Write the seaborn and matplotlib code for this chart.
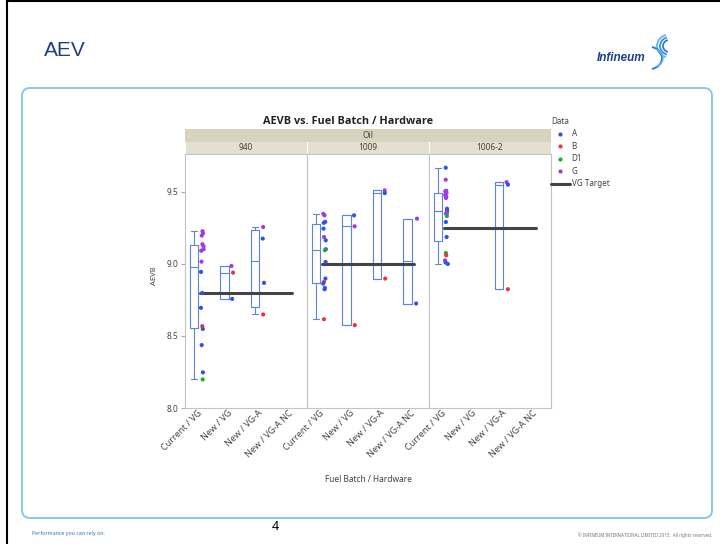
import numpy as np
import pandas as pd
import seaborn as sns
import matplotlib.pyplot as plt
from matplotlib.lines import Line2D
from matplotlib.patches import FancyBboxPatch, Rectangle, Arc
from matplotlib.transforms import ScaledTranslation

oils = ['940', '1009', '1006-2']
hardware = ['Current / VG', 'New / VG', 'New / VG-A', 'New / VG-A NC']
groups = ['A', 'B', 'D1', 'G']
group_colors = ['#2f55e0', '#e8383d', '#1fae2f', '#a23be6']
vg_target = [8.8, 9.0, 9.25]

# AEVB values, with the data group of each point
aevb_940_cur = [9.225, 9.21, 9.195, 9.135, 9.12, 9.10, 9.09, 9.014,
                8.943, 8.797, 8.694, 8.567, 8.548, 8.436, 8.247, 8.198]
data_940_cur = ['G'] * 8 + ['A', 'A', 'A', 'B', 'A', 'A', 'A', 'D1']
aevb_940_new = [8.984, 8.938, 8.756]
data_940_new = ['G', 'B', 'A']
aevb_940_newa = [9.254, 9.174, 8.867, 8.648]
data_940_newa = ['G', 'A', 'A', 'B']

aevb_1009_cur = [9.345, 9.335, 9.29, 9.283, 9.243, 9.185, 9.162, 9.10,
                 9.093, 9.012, 8.897, 8.874, 8.862, 8.832, 8.823, 8.615]
data_1009_cur = ['G', 'G', 'A', 'A', 'A', 'G', 'A', 'A',
                 'D1', 'A', 'A', 'B', 'A', 'A', 'A', 'B']
aevb_1009_new = [9.335, 9.259, 8.574]
data_1009_new = ['A', 'G', 'B']
aevb_1009_newa = [9.508, 9.489, 8.897]
data_1009_newa = ['G', 'A', 'B']
aevb_1009_nc = [9.312, 8.724]
data_1009_nc = ['G', 'A']

aevb_1006_cur = [9.665, 9.582, 9.505, 9.503, 9.50, 9.49, 9.475, 9.465, 9.455,
                 9.381, 9.367, 9.358, 9.352, 9.346, 9.33, 9.289, 9.185,
                 9.074, 9.058, 9.023, 9.008, 8.998]
data_1006_cur = ['A', 'G', 'A', 'G', 'G', 'G', 'G', 'G', 'G',
                 'A', 'A', 'A', 'G', 'G', 'D1', 'A', 'A',
                 'D1', 'B', 'G', 'A', 'A']
aevb_1006_newa = [9.565, 9.548, 8.823]
data_1006_newa = ['G', 'A', 'B']

table = {
    ('940', 'Current / VG'): (aevb_940_cur, data_940_cur),
    ('940', 'New / VG'): (aevb_940_new, data_940_new),
    ('940', 'New / VG-A'): (aevb_940_newa, data_940_newa),
    ('1009', 'Current / VG'): (aevb_1009_cur, data_1009_cur),
    ('1009', 'New / VG'): (aevb_1009_new, data_1009_new),
    ('1009', 'New / VG-A'): (aevb_1009_newa, data_1009_newa),
    ('1009', 'New / VG-A NC'): (aevb_1009_nc, data_1009_nc),
    ('1006-2', 'Current / VG'): (aevb_1006_cur, data_1006_cur),
    ('1006-2', 'New / VG-A'): (aevb_1006_newa, data_1006_newa),
}

rows = []
for (oil, hw), (vals, grp) in table.items():
    for v, g in zip(vals, grp):
        rows.append({'Oil': oil, 'Hardware': hw, 'AEVB': v, 'Data': g})
df = pd.DataFrame(rows)

sns.set_theme(style='white')
plt.rcParams['font.family'] = ['Noto Sans', 'DejaVu Sans']
text_col = '#444444'
box_col = '#5b82e6'
np.random.seed(3)


def fx(px):
    return px / 720


def fy(py):
    return 1 - py / 544


def box_stats(vals):
    v = np.sort(np.asarray(vals))
    q1, med, q3 = np.percentile(v, [25, 50, 75], method='weibull')
    iqr = q3 - q1
    lo = v[v >= q1 - 1.5 * iqr].min()
    hi = v[v <= q3 + 1.5 * iqr].max()
    return dict(med=med, q1=q1, q3=q3, whislo=lo, whishi=hi, fliers=[])


fig = plt.figure(figsize=(7.2, 5.44), dpi=100)

# slide decoration in pixel coordinates
deco = fig.add_axes([0, 0, 1, 1])
deco.set_xlim(0, 720)
deco.set_ylim(544, 0)
deco.axis('off')
deco.set_zorder(-1)
deco.plot([7, 7], [0, 544], color='black', lw=1.5)
deco.plot([7, 720], [0.7, 0.7], color='black', lw=1.5)
deco.add_patch(FancyBboxPatch((22, 88), 690, 430, boxstyle='round,pad=0,rounding_size=8',
                              facecolor='white', edgecolor='#86cbe3', lw=1.4))
deco.text(44, 51, 'AEV', fontsize=15, color='#1f3c88', va='center', ha='left',
          family=['Liberation Sans', 'DejaVu Sans'])
deco.text(597, 58, 'Infineum', fontsize=8.5, color='#1c3f94', va='center', ha='left',
          fontstyle='italic', fontweight='bold', family=['Liberation Sans', 'DejaVu Sans'])
for w, c in [(14, '#2f7ad6'), (20, '#3b8fe0'), (26, '#67b3ea')]:
    deco.add_patch(Arc((670, 46), w, w * 0.9, theta1=110, theta2=250, color=c, lw=1.3))
deco.add_patch(Arc((650, 58), 24, 22, theta1=-80, theta2=80, color='#2f7ad6', lw=1.4))
deco.add_patch(Arc((653, 58), 20, 18, theta1=-70, theta2=70, color='#67b3ea', lw=1.1))
deco.text(32, 533, 'Performance you can rely on.', fontsize=3.8, color='#3a6fc4', va='center')
deco.text(275, 527, '4', fontsize=9, color='black', va='center', ha='center')
deco.text(712, 535, '\u00a9 INFINEUM INTERNATIONAL LIMITED 2015.  All rights reserved.',
          fontsize=3.2, color='#777777', va='center', ha='right')

# chart title and strips
deco.text(348, 122, 'AEVB vs. Fuel Batch / Hardware', fontsize=7.8, fontweight='bold',
          color='#222222', ha='center', va='center', family=['Open Sans', 'DejaVu Sans'])
deco.add_patch(Rectangle((185, 128.5), 366, 13, facecolor='#d7d3be', edgecolor='none'))
deco.text(368, 135, 'Oil', fontsize=6, color=text_col, ha='center', va='center')
for k, oil in enumerate(oils):
    deco.add_patch(Rectangle((185 + 122 * k + 0.5, 141.5), 121, 12.5,
                             facecolor='#e3e0d0', edgecolor='none'))
    deco.text(246 + 122 * k, 148, oil, fontsize=6, color=text_col, ha='center', va='center')

label_shift = ScaledTranslation(6 / 100, 0, fig.dpi_scale_trans)

for k, oil in enumerate(oils):
    ax = fig.add_axes([fx(185 + 122 * k), fy(408), 122 / 720, (408 - 154) / 544])
    sub = df[df['Oil'] == oil]
    sns.stripplot(data=sub, x='Hardware', y='AEVB', hue='Data', order=hardware,
                  hue_order=groups, palette=group_colors, jitter=0.05, size=3,
                  linewidth=0, legend=False, ax=ax, zorder=3)
    for coll in ax.collections:
        off = coll.get_offsets()
        if len(off):
            off[:, 0] += 0.07
            coll.set_offsets(off)
    for i, hw in enumerate(hardware):
        vals = sub.loc[sub['Hardware'] == hw, 'AEVB']
        if len(vals) == 0:
            continue
        ax.bxp([box_stats(vals)], positions=[i - 0.2], widths=0.28, capwidths=0.2,
               showfliers=False, manage_ticks=False,
               boxprops=dict(color=box_col, lw=0.8),
               whiskerprops=dict(color=box_col, lw=0.8),
               capprops=dict(color=box_col, lw=0.8),
               medianprops=dict(color=box_col, lw=0.8))
    ax.plot([0, len(hardware) - 1], [vg_target[k], vg_target[k]],
            color='#444444', lw=2.2, zorder=2)
    ax.set_xlim(-0.5, len(hardware) - 0.5)
    ax.set_ylim(8.0, 9.76)
    ax.set_yticks([8.0, 8.5, 9.0, 9.5])
    ax.set_xticks(range(len(hardware)))
    ax.set_xticklabels(hardware, rotation=45, ha='right', va='center',
                       rotation_mode='anchor', fontsize=6.5, color=text_col)
    for lab in ax.get_xticklabels():
        lab.set_transform(lab.get_transform() + label_shift)
    ax.set_xlabel('')
    ax.set_ylabel('')
    ax.tick_params(axis='x', length=0, pad=2.5)
    if k == 0:
        ax.set_yticklabels(['8.0', '8.5', '9.0', '9.5'], fontsize=6, color=text_col)
        ax.tick_params(axis='y', length=3, width=0.6, color='#999999', pad=2, left=True)
    else:
        ax.set_yticklabels([])
        ax.tick_params(axis='y', length=0)
    for s in ax.spines.values():
        s.set_color('#c4c4c4')
        s.set_linewidth(0.8)
    ax.set_facecolor('white')

fig.text(fx(155), fy(276), 'AEVB', rotation=90, fontsize=5.5, color=text_col,
         ha='center', va='center')
fig.text(fx(368), fy(479), 'Fuel Batch / Hardware', fontsize=6, color=text_col,
         ha='center', va='center')

handles = [Line2D([], [], marker='o', ls='none', markersize=3, color=c, markeredgewidth=0)
           for c in group_colors]
handles.append(Line2D([], [], color='#444444', lw=2.2))
leg = fig.legend(handles, groups + ['VG Target'], loc='upper left',
                 bbox_to_anchor=(fx(551), fy(117)), frameon=False, title='Data',
                 fontsize=5.8, title_fontsize=5.8, handlelength=2.3, handletextpad=0.25,
                 labelspacing=0.43, borderaxespad=0, borderpad=0, alignment='left')
for t in leg.get_texts():
    t.set_color(text_col)
leg.get_title().set_color(text_col)

fig.savefig('out.png', dpi=100)
